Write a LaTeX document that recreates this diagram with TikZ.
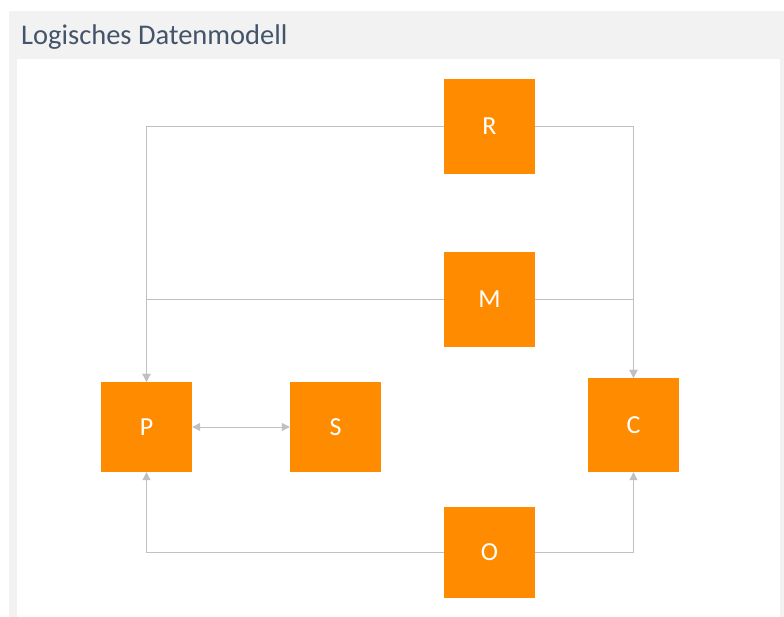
\documentclass[tikz,border=0pt]{standalone}
\usepackage{fontspec}
\setmainfont{Carlito}
\usetikzlibrary{arrows.meta}
\definecolor{boxorange}{HTML}{FF8C00}
\definecolor{linegray}{HTML}{C0C0C0}
\definecolor{panelgray}{HTML}{F2F2F2}
\definecolor{titleblue}{HTML}{44546A}
\tikzset{
  entity/.style={fill=boxorange, draw=none, minimum width=91pt, minimum height=91pt,
    inner sep=0pt, text=white, font=\fontsize{26}{30}\selectfont},
  conn/.style={draw=linegray, line width=1pt, -{Triangle[width=8pt,length=8pt]}},
  bothconn/.style={draw=linegray, line width=1pt, {Triangle[width=8pt,length=8pt]}-{Triangle[width=8pt,length=8pt]}}
}
\begin{document}
\begin{tikzpicture}[x=1pt,y=-1pt]
\useasboundingbox (0,0) rectangle (784,617);
\fill[white] (0,0) rectangle (784,617);
\fill[panelgray] (9,11) rectangle (784,617);
\fill[white] (17,59) rectangle (780,617);
\node[anchor=base west, text=titleblue, font=\fontsize{28.5}{32}\selectfont, inner sep=0pt] (title) at (21,45) {Logisches Datenmodell};

\node[entity, minimum height=95pt] (R) at (489.5,126.5) {R};
\node[entity, minimum height=95pt] (M) at (489.5,299.5) {M};
\node[entity, minimum height=90pt] (P) at (146.5,427) {P};
\node[entity, minimum height=90pt] (S) at (335.5,427) {S};
\node[entity, minimum height=94pt] (C) at (633.5,425) {C};
\node[entity] (O) at (489.5,552.5) {O};

\draw[conn] (R.west) -| (P.north);
\draw[conn] (R.east) -| (C.north);
\draw[conn] (M.west) -| (P.north);
\draw[conn] (M.east) -| (C.north);
\draw[conn] (O.west) -| (P.south);
\draw[conn] (O.east) -| (C.south);
\draw[bothconn] (P.east) -- (S.west);
\end{tikzpicture}
\end{document}
